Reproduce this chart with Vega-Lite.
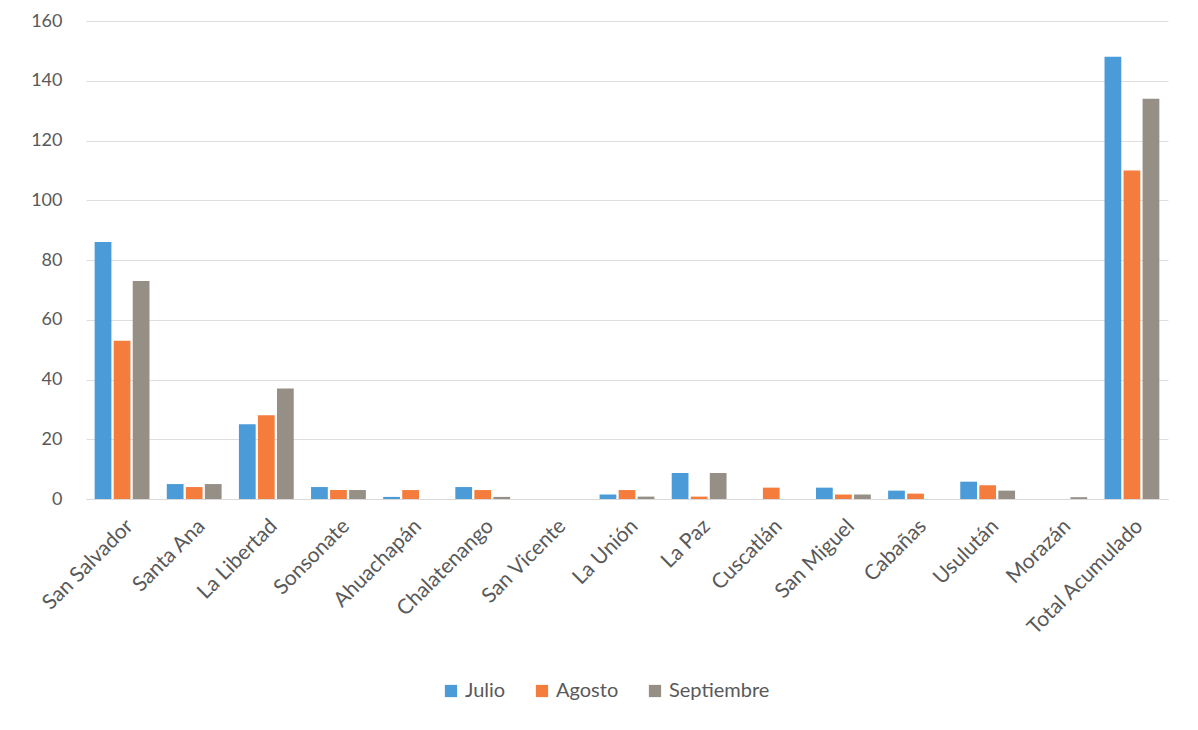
{
  "$schema": "https://vega.github.io/schema/vega-lite/v6.json",
  "width": 1082,
  "height": 478,
  "padding": {"left": 30, "top": 12, "right": 20, "bottom": 5},
  "background": "white",
  "config": {
    "font": "Lato",
    "view": {"stroke": null},
    "axis": {"labelFont": "Lato", "labelColor": "#595959", "labelFontSize": 17, "titleFont": "Lato"},
    "legend": {"labelFont": "Lato", "labelColor": "#595959", "labelFontSize": 20}
  },
  "data": {
    "values": [
      {"dep": "San Salvador", "mes": "Julio", "v": 86},
      {"dep": "San Salvador", "mes": "Agosto", "v": 53},
      {"dep": "San Salvador", "mes": "Septiembre", "v": 73},
      {"dep": "Santa Ana", "mes": "Julio", "v": 5},
      {"dep": "Santa Ana", "mes": "Agosto", "v": 4},
      {"dep": "Santa Ana", "mes": "Septiembre", "v": 5},
      {"dep": "La Libertad", "mes": "Julio", "v": 25},
      {"dep": "La Libertad", "mes": "Agosto", "v": 28},
      {"dep": "La Libertad", "mes": "Septiembre", "v": 37},
      {"dep": "Sonsonate", "mes": "Julio", "v": 4},
      {"dep": "Sonsonate", "mes": "Agosto", "v": 3},
      {"dep": "Sonsonate", "mes": "Septiembre", "v": 3},
      {"dep": "Ahuachapán", "mes": "Julio", "v": 0.7},
      {"dep": "Ahuachapán", "mes": "Agosto", "v": 3},
      {"dep": "Ahuachapán", "mes": "Septiembre", "v": 0},
      {"dep": "Chalatenango", "mes": "Julio", "v": 4},
      {"dep": "Chalatenango", "mes": "Agosto", "v": 3},
      {"dep": "Chalatenango", "mes": "Septiembre", "v": 0.7},
      {"dep": "San Vicente", "mes": "Julio", "v": 0},
      {"dep": "San Vicente", "mes": "Agosto", "v": 0},
      {"dep": "San Vicente", "mes": "Septiembre", "v": 0},
      {"dep": "La Unión", "mes": "Julio", "v": 1.5},
      {"dep": "La Unión", "mes": "Agosto", "v": 3},
      {"dep": "La Unión", "mes": "Septiembre", "v": 0.8},
      {"dep": "La Paz", "mes": "Julio", "v": 8.7},
      {"dep": "La Paz", "mes": "Agosto", "v": 0.8},
      {"dep": "La Paz", "mes": "Septiembre", "v": 8.7},
      {"dep": "Cuscatlán", "mes": "Julio", "v": 0},
      {"dep": "Cuscatlán", "mes": "Agosto", "v": 3.8},
      {"dep": "Cuscatlán", "mes": "Septiembre", "v": 0},
      {"dep": "San Miguel", "mes": "Julio", "v": 3.8},
      {"dep": "San Miguel", "mes": "Agosto", "v": 1.5},
      {"dep": "San Miguel", "mes": "Septiembre", "v": 1.5},
      {"dep": "Cabañas", "mes": "Julio", "v": 2.8},
      {"dep": "Cabañas", "mes": "Agosto", "v": 1.8},
      {"dep": "Cabañas", "mes": "Septiembre", "v": 0},
      {"dep": "Usulután", "mes": "Julio", "v": 5.8},
      {"dep": "Usulután", "mes": "Agosto", "v": 4.6},
      {"dep": "Usulután", "mes": "Septiembre", "v": 2.8},
      {"dep": "Morazán", "mes": "Julio", "v": 0},
      {"dep": "Morazán", "mes": "Agosto", "v": 0},
      {"dep": "Morazán", "mes": "Septiembre", "v": 0.6},
      {"dep": "Total Acumulado", "mes": "Julio", "v": 148},
      {"dep": "Total Acumulado", "mes": "Agosto", "v": 110},
      {"dep": "Total Acumulado", "mes": "Septiembre", "v": 134}
    ]
  },
  "mark": {"type": "bar"},
  "encoding": {
    "x": {
      "field": "dep", "type": "nominal", "sort": null,
      "scale": {"paddingInner": 0.24, "paddingOuter": 0.12},
      "axis": {"title": null, "labelAngle": -45, "labelFontSize": 21, "ticks": false, "domain": true, "domainColor": "#d9d9d9", "labelPadding": 16, "grid": false}
    },
    "xOffset": {
      "field": "mes", "type": "nominal", "sort": ["Julio", "Agosto", "Septiembre"],
      "scale": {"paddingInner": 0.12}
    },
    "y": {
      "field": "v", "type": "quantitative",
      "scale": {"domain": [0, 160], "nice": false},
      "axis": {"title": null, "values": [0, 20, 40, 60, 80, 100, 120, 140, 160], "labelFontSize": 18, "ticks": false, "domain": false, "gridColor": "#dedede", "labelPadding": 24}
    },
    "color": {
      "field": "mes", "type": "nominal",
      "sort": ["Julio", "Agosto", "Septiembre"],
      "scale": {"domain": ["Julio", "Agosto", "Septiembre"], "range": ["#4a9bd8", "#f47d3e", "#958f86"]},
      "legend": {"title": null, "orient": "none", "direction": "horizontal", "legendX": 355, "legendY": 660, "symbolType": "square", "symbolSize": 150, "symbolStrokeWidth": 0, "columnPadding": 26, "labelOffset": 4}
    }
  }
}
